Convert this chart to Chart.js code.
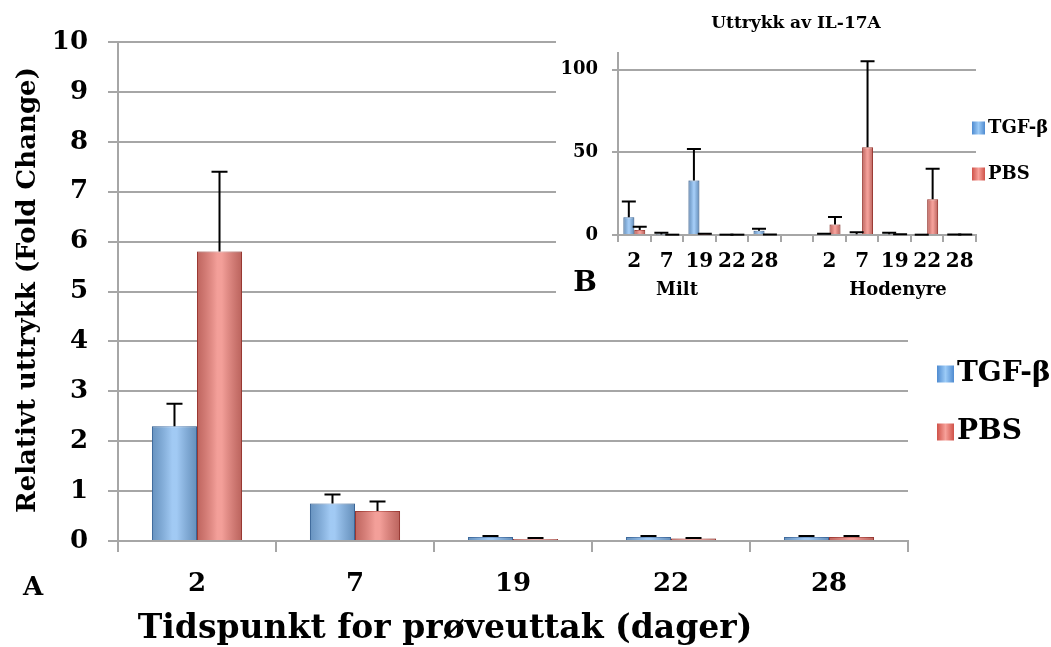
<!DOCTYPE html>
<html>
<head>
<meta charset="utf-8">
<script src="https://cdn.jsdelivr.net/npm/chart.js@4"></script>
<style>
  html, body { margin: 0; padding: 0; background: #fff; }
  #wrap { position: relative; width: 1051px; height: 647px; }
  #main { position: absolute; left: 0; top: 0; }
  #inset { position: absolute; left: 556px; top: 0; background: #fff; }
</style>
</head>
<body>
<div id="wrap">
  <canvas id="main" width="1051" height="647"></canvas>
  <canvas id="inset" width="495" height="300"></canvas>
</div>
<script>
// main chart (A)
const days = ['2', '7', '19', '22', '28'];
const tgfMain = [2.3, 0.75, 0.08, 0.08, 0.08];
const tgfMainErr = [0.45, 0.18, 0.02, 0.02, 0.02];
const pbsMain = [5.8, 0.6, 0.04, 0.05, 0.08];
const pbsMainErr = [1.6, 0.19, 0.02, 0.01, 0.02];
const mainTicks = [0, 1, 2, 3, 4, 5, 6, 7, 8, 9, 10];

// inset chart (B), IL-17A
const insetLabels = ['2', '7', '19', '22', '28', '', '2', '7', '19', '22', '28'];
const tgfInset = [10.7, 0.3, 33, 0.2, 2.6, null, 0.3, 0.5, 0.4, 0.2, 0.3];
const tgfInsetErr = [9.5, 1.1, 19, 0, 1.2, null, 0.5, 1.1, 1.0, 0, 0];
const pbsInset = [3, 0.2, 0.2, 0.2, 0.3, null, 6.3, 53, 0.2, 21.6, 0.3];
const pbsInsetErr = [2, 0, 0.6, 0, 0, null, 4.6, 52, 0.3, 18.4, 0];
const insetTicks = [0, 50, 100];

const FONT = 'DejaVu Serif';
Chart.defaults.font.family = FONT;
Chart.defaults.font.weight = 'bold';
Chart.defaults.color = '#000';

const BLUE = '#82b8f0';
const RED = '#ef7f77';
const GRID = '#a6a6a6';

// bevel-ish shading over each bar
const shadePlugin = {
  id: 'shade',
  afterDatasetsDraw(chart) {
    const ctx = chart.ctx;
    chart.data.datasets.forEach((ds, di) => {
      chart.getDatasetMeta(di).data.forEach(el => {
        if (el.skip || el.y == null) return;
        const l = el.x - el.width / 2, r = el.x + el.width / 2;
        const top = Math.min(el.y, el.base), h = Math.abs(el.base - el.y);
        if (h < 0.5) return;
        const g = ctx.createLinearGradient(l, 0, r, 0);
        g.addColorStop(0, 'rgba(0,0,0,0.2)');
        g.addColorStop(0.45, 'rgba(255,255,255,0.25)');
        g.addColorStop(0.55, 'rgba(255,255,255,0.25)');
        g.addColorStop(1, 'rgba(0,0,0,0.22)');
        ctx.save();
        ctx.fillStyle = g;
        ctx.fillRect(l, top, r - l, h);
        ctx.restore();
      });
    });
  }
};

// upward error bars with caps
const errorPlugin = {
  id: 'errbars',
  afterDatasetsDraw(chart, args, opts) {
    const ctx = chart.ctx;
    const y = chart.scales.y;
    chart.data.datasets.forEach((ds, di) => {
      const errs = ds.errors;
      if (!errs) return;
      chart.getDatasetMeta(di).data.forEach((el, i) => {
        const v = ds.data[i];
        if (v == null || errs[i] == null) return;
        const yTop = y.getPixelForValue(v + errs[i]);
        ctx.save();
        ctx.strokeStyle = '#000';
        ctx.lineWidth = opts.width || 2;
        ctx.beginPath();
        ctx.moveTo(el.x, el.y);
        ctx.lineTo(el.x, yTop);
        ctx.moveTo(el.x - opts.cap, yTop);
        ctx.lineTo(el.x + opts.cap, yTop);
        ctx.stroke();
        ctx.restore();
      });
    });
  }
};

// free text: labels, titles and the hand-placed legends
const textPlugin = {
  id: 'texts',
  afterDraw(chart, args, opts) {
    const ctx = chart.ctx;
    (opts.items || []).forEach(t => {
      ctx.save();
      ctx.font = `bold ${t.size}px ${FONT}`;
      ctx.fillStyle = '#000';
      ctx.textAlign = t.align || 'center';
      ctx.textBaseline = 'middle';
      ctx.translate(t.x, t.y);
      if (t.rot) ctx.rotate(t.rot);
      ctx.fillText(t.text, 0, 0);
      ctx.restore();
    });
    (opts.legend || []).forEach(e => {
      const g = ctx.createLinearGradient(e.x, 0, e.x + e.box, 0);
      g.addColorStop(0, e.dark);
      g.addColorStop(0.5, e.color);
      g.addColorStop(1, e.dark);
      ctx.save();
      ctx.fillStyle = g;
      ctx.fillRect(e.x, e.y - e.box / 2, e.box, e.box);
      ctx.font = `bold ${e.size}px ${FONT}`;
      ctx.fillStyle = '#000';
      ctx.textAlign = 'left';
      ctx.textBaseline = 'middle';
      ctx.fillText(e.text, e.x + e.box + 3, e.y);
      ctx.restore();
    });
  }
};

new Chart(document.getElementById('main'), {
  type: 'bar',
  data: {
    labels: days,
    datasets: [
      { label: 'TGF-β', data: tgfMain, errors: tgfMainErr, backgroundColor: BLUE, borderColor: '#4a80c0', borderWidth: 1 },
      { label: 'PBS', data: pbsMain, errors: pbsMainErr, backgroundColor: RED, borderColor: '#c0453d', borderWidth: 1 }
    ]
  },
  options: {
    responsive: false,
    animation: false,
    layout: { padding: { left: 0, right: 143, top: 42, bottom: 0 } },
    datasets: { bar: { categoryPercentage: 0.57, barPercentage: 1 } },
    scales: {
      x: {
        offset: true,
        grid: { offset: true, drawOnChartArea: false, tickLength: 11, color: GRID, lineWidth: 2 },
        border: { color: GRID, width: 2 },
        ticks: { font: { size: 26 }, padding: 17 },
        afterFit(s) { s.height = 106; }
      },
      y: {
        min: 0, max: 10,
        afterBuildTicks(s) { s.ticks = mainTicks.map(v => ({ value: v })); },
        grid: { color: GRID, lineWidth: 2, tickLength: 10 },
        border: { color: GRID, width: 2 },
        ticks: { font: { size: 26 }, padding: 20 },
        afterFit(s) { s.width = 118; }
      }
    },
    plugins: {
      legend: { display: false },
      tooltip: { enabled: false },
      errbars: { cap: 8, width: 2 },
      texts: {
        items: [
          { text: 'A', x: 33, y: 588, size: 26 },
          { text: 'Tidspunkt for prøveuttak (dager)', x: 445, y: 629, size: 33 },
          { text: 'Relativt uttrykk (Fold Change)', x: 28, y: 290, size: 26, rot: -Math.PI / 2 }
        ],
        legend: [
          { text: 'TGF-β', x: 937, y: 374, box: 17, size: 28, color: '#9ccbf7', dark: '#4f8bd0' },
          { text: 'PBS', x: 937, y: 432, box: 17, size: 28, color: '#f7a19a', dark: '#cf5249' }
        ]
      }
    }
  },
  plugins: [shadePlugin, errorPlugin, textPlugin]
});

new Chart(document.getElementById('inset'), {
  type: 'bar',
  data: {
    labels: insetLabels,
    datasets: [
      { label: 'TGF-β', data: tgfInset, errors: tgfInsetErr, backgroundColor: BLUE, borderColor: '#4a80c0', borderWidth: 1 },
      { label: 'PBS', data: pbsInset, errors: pbsInsetErr, backgroundColor: RED, borderColor: '#c0453d', borderWidth: 1 }
    ]
  },
  options: {
    responsive: false,
    animation: false,
    layout: { padding: { left: 0, right: 75, top: 53, bottom: 0 } },
    datasets: { bar: { categoryPercentage: 0.67, barPercentage: 1 } },
    scales: {
      x: {
        offset: true,
        grid: { offset: true, drawOnChartArea: false, tickLength: 7, color: GRID, lineWidth: 2 },
        border: { color: GRID, width: 2 },
        ticks: { font: { size: 20 }, padding: 8, autoSkip: false, maxRotation: 0 },
        afterFit(s) { s.height = 65; }
      },
      y: {
        min: 0, max: 110,
        afterBuildTicks(s) { s.ticks = insetTicks.map(v => ({ value: v })); },
        grid: { color: GRID, lineWidth: 2, tickLength: 6 },
        border: { color: GRID, width: 2 },
        ticks: { font: { size: 18 }, padding: 14 },
        afterFit(s) { s.width = 62; }
      }
    },
    plugins: {
      legend: { display: false },
      tooltip: { enabled: false },
      errbars: { cap: 7, width: 2 },
      texts: {
        items: [
          { text: 'Uttrykk av IL-17A', x: 240, y: 24, size: 17 },
          { text: 'B', x: 29, y: 284, size: 28 },
          { text: 'Milt', x: 121, y: 290, size: 18 },
          { text: 'Hodenyre', x: 342, y: 290, size: 18 }
        ],
        legend: [
          { text: 'TGF-β', x: 416, y: 128, box: 13, size: 18, color: '#9ccbf7', dark: '#4f8bd0' },
          { text: 'PBS', x: 416, y: 174, box: 13, size: 18, color: '#f7a19a', dark: '#cf5249' }
        ]
      }
    }
  },
  plugins: [shadePlugin, errorPlugin, textPlugin]
});
</script>
</body>
</html>
